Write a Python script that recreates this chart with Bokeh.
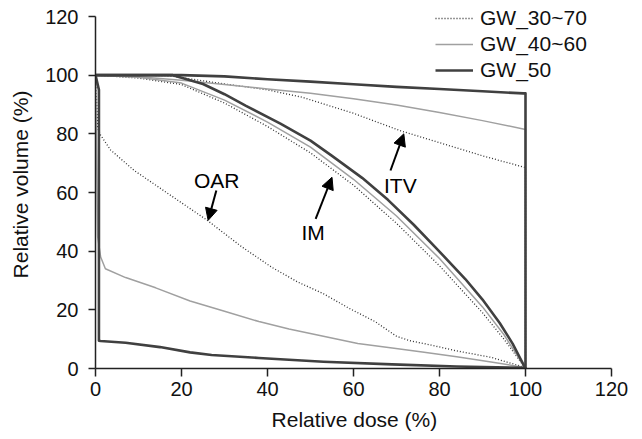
from bokeh.plotting import figure
from bokeh.models import Range1d, Legend, LegendItem, Arrow, NormalHead, Label, FixedTicker
from bokeh.embed import file_html
from bokeh.resources import INLINE

# ---- data (relative dose %, relative volume %) ----
itv_30_70_x = [0, 10, 17, 30, 40, 48, 60, 71, 80, 90, 100, 100]
itv_30_70_y = [100, 100, 99.8, 97, 95, 92.5, 87, 81, 77, 72.5, 68.5, 0]
itv_40_60_x = [0, 10, 20, 30, 40, 50, 60, 70, 80, 90, 100, 100]
itv_40_60_y = [100, 99.5, 98.3, 96.8, 95.3, 93.8, 92, 89.8, 87.3, 84.5, 81.5, 0]
itv_50_x = [0, 20, 30, 40, 50, 60, 70, 80, 90, 99.5, 100, 100]
itv_50_y = [100, 100, 99.6, 98.6, 97.8, 96.9, 96, 95.3, 94.5, 93.8, 93.8, 0]

im_50_x = [0, 18, 25, 30, 35, 43, 50, 55, 62, 68, 74, 79, 86, 90, 94, 97, 100]
im_50_y = [100, 100, 97, 93.5, 89.5, 83.5, 77.7, 72.5, 65, 57.5, 49, 41.4, 30.5, 23.5, 15.5, 8.5, 0]
im_40_60_x = [0, 10, 20, 30, 40, 50, 60, 70, 80, 90, 95, 100]
im_40_60_y = [100, 99.3, 97.3, 91.5, 84, 75.5, 64.5, 52, 37.5, 21, 11.5, 0]
im_30_70_x = [0, 10, 20, 30, 40, 50, 60, 70, 80, 90, 95, 100]
im_30_70_y = [100, 99, 96.8, 90.5, 82.5, 73.5, 62.5, 49.5, 35, 19, 10, 0]

oar_30_70_x = [0, 0.5, 1.2, 3.5, 9, 18, 26, 34, 41, 47, 53, 59, 65, 70, 73, 78, 84, 92, 100]
oar_30_70_y = [100, 82, 79.5, 74.5, 67.5, 58.5, 50.5, 41.5, 34.5, 29.5, 25.5, 20.5, 16, 11, 9.5, 8, 6, 3.8, 0.3]
oar_40_60_x = [0, 0.5, 1.2, 2.3, 7, 14, 22, 30, 38, 45, 53, 61, 69, 76, 84, 92, 100]
oar_40_60_y = [100, 45, 38, 34, 31, 27.5, 23, 19.5, 16, 13.5, 11, 8.5, 7, 5.6, 4, 2.2, 0.3]
oar_50_x = [0, 0.8, 0.8, 1.2, 7, 15, 22, 27, 38, 53, 69, 84, 100]
oar_50_y = [100, 95, 9.5, 9.4, 8.8, 7.3, 5.5, 4.6, 3.6, 2.3, 1.4, 0.7, 0.2]

series_names = ["GW_30~70", "GW_40~60", "GW_50"]
x_ticks = [0, 20, 40, 60, 80, 100, 120]
y_ticks = [0, 20, 40, 60, 80, 100, 120]
axis_min, axis_max = 0, 120

ann_texts = ["OAR", "IM", "ITV"]
ann_text_x = [28.2, 50.6, 70.9]
ann_text_y = [64.1, 46.5, 62.3]
arrow_tail_x = [28.1, 51.2, 68.6]
arrow_tail_y = [60.7, 51.0, 67.5]
arrow_tip_x = [26.2, 55.0, 71.7]
arrow_tip_y = [50.5, 65.2, 80.0]

FONT = "Liberation Sans"
DARK = "#404040"
GRAY = "#a0a0a0"
DOT = "#303030"

W, H = 642, 439
LEFT, BOTTOM = 95, 71
PX_X = 516 / 120.0   # pixels per x unit
PX_Y = 352 / 120.0   # pixels per y unit

p = figure(width=W, height=H, output_backend="svg", toolbar_location=None,
           x_range=Range1d(0, (W - LEFT) / PX_X), y_range=Range1d(0, (H - BOTTOM) / PX_Y),
           min_border_left=LEFT, min_border_right=0, min_border_top=0, min_border_bottom=BOTTOM)
p.outline_line_color = None
p.xgrid.grid_line_color = None
p.ygrid.grid_line_color = None

styles = {
    "GW_30~70": dict(line_color=DOT, line_width=1.3, line_dash="1 2"),
    "GW_40~60": dict(line_color=GRAY, line_width=1.5),
    "GW_50": dict(line_color=DARK, line_width=2.6),
}

groups = [
    (series_names[0], [(itv_30_70_x, itv_30_70_y), (im_30_70_x, im_30_70_y), (oar_30_70_x, oar_30_70_y)]),
    (series_names[1], [(itv_40_60_x, itv_40_60_y), (im_40_60_x, im_40_60_y), (oar_40_60_x, oar_40_60_y)]),
    (series_names[2], [(itv_50_x, itv_50_y), (im_50_x, im_50_y), (oar_50_x, oar_50_y)]),
]

items = []
for name, curves in groups:
    rs = []
    for xs, ys in curves:
        r = p.line(xs, ys, line_join="round", **styles[name])
        rs.append(r)
    items.append(LegendItem(label=name, renderers=[rs[0]]))

legend = Legend(items=items, location=(340, 286), border_line_color=None,
                background_fill_alpha=0, padding=0, margin=0, spacing=2,
                glyph_width=38, glyph_height=20, label_height=20,
                label_standoff=7, label_text_font=FONT, label_text_font_size="21px",
                label_text_color="#111111")
p.add_layout(legend)

for t, tx, ty in zip(ann_texts, ann_text_x, ann_text_y):
    p.add_layout(Label(x=tx, y=ty, text=t, text_font=FONT, text_font_size="21px",
                       text_align="center", text_baseline="middle", text_color="#000000"))
for x0, y0, x1, y1 in zip(arrow_tail_x, arrow_tail_y, arrow_tip_x, arrow_tip_y):
    p.add_layout(Arrow(x_start=x0, y_start=y0, x_end=x1, y_end=y1, line_width=2, line_color="#000000",
                       end=NormalHead(size=12, fill_color="#000000", line_color="#000000")))

for ax, ticks, tol in ((p.xaxis[0], x_ticks, 8), (p.yaxis[0], y_ticks, 7)):
    ax.ticker = FixedTicker(ticks=ticks)
    ax.bounds = (axis_min, axis_max)
    ax.minor_tick_line_color = None
    ax.major_tick_in = 0
    ax.major_tick_out = tol
    ax.axis_line_color = "#222222"
    ax.axis_line_width = 1.5
    ax.major_tick_line_color = "#222222"
    ax.major_tick_line_width = 1.5
    ax.major_label_text_font = FONT
    ax.major_label_text_font_size = "20px"
    ax.major_label_text_color = "#111111"
    ax.axis_label_text_font = FONT
    ax.axis_label_text_font_size = "21px"
    ax.axis_label_text_font_style = "normal"
    ax.axis_label_text_color = "#111111"

# trailing no-break spaces centre the title under the 0-120 span rather than the wider frame
p.xaxis.axis_label = "Relative dose (%)" + "\u00a0" * 5
p.yaxis.axis_label = "Relative volume (%)"
p.xaxis.major_label_standoff = 5
p.yaxis.major_label_standoff = 10
p.xaxis.axis_label_standoff = 9
p.yaxis.axis_label_standoff = 10

open("out.html", "w").write(file_html(p, INLINE))
